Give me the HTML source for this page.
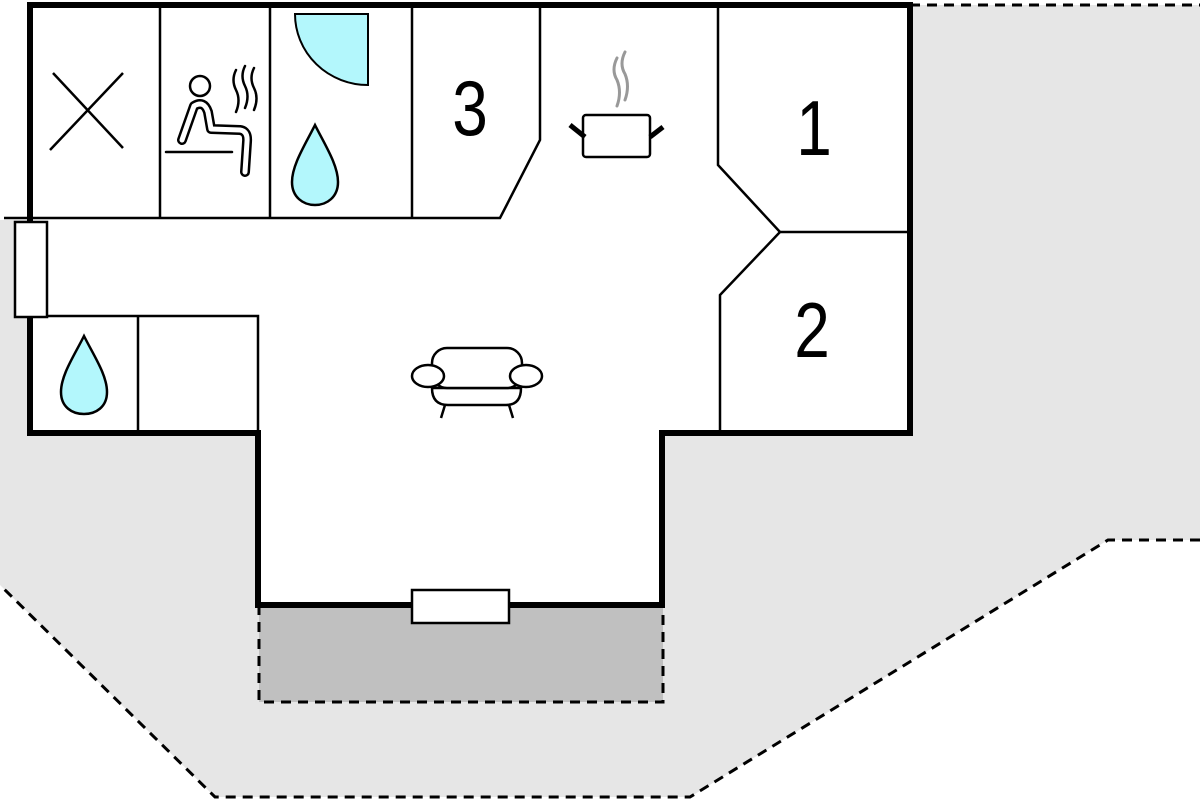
<!DOCTYPE html>
<html><head><style>html,body{margin:0;padding:0;background:#fff;}svg{display:block;}</style></head>
<body>
<svg width="1200" height="800" viewBox="0 0 1200 800" xmlns="http://www.w3.org/2000/svg">
<polygon points="910,5 1200,5 1200,540 1108,540 690,797 215,797 0,585 0,220 30,220 30,5" fill="#e6e6e6"/>
<polyline points="910,5 1200,5" fill="none" stroke="#000" stroke-width="3" stroke-dasharray="10,7"/>
<polyline points="1200,540 1108,540 690,797 215,797 0,585" fill="none" stroke="#000" stroke-width="3" stroke-dasharray="10,7"/>
<rect x="259" y="605" width="404" height="97" fill="#c0c0c0"/>
<polyline points="259,605 259,702 663,702 663,605" fill="none" stroke="#000" stroke-width="3" stroke-dasharray="10,7"/>
<polygon points="30,5 910,5 910,435 662,435 662,605 258,605 258,435 30,435" fill="#fff"/>
<g fill="none" stroke="#000" stroke-width="2.5">
<polyline points="30,218 500,218 540,140 540,5"/>
<line x1="160" y1="5" x2="160" y2="218"/>
<line x1="270" y1="5" x2="270" y2="218"/>
<line x1="412" y1="5" x2="412" y2="218"/>
<polyline points="30,316 258,316 258,435"/>
<line x1="138" y1="316" x2="138" y2="435"/>
<polyline points="718,5 718,165 780,232 720,295 720,435"/>
<line x1="780" y1="232" x2="910" y2="232"/>
</g>
<g fill="none" stroke="#000" stroke-width="6" stroke-linecap="square">
<polyline points="30,220 30,5 910,5 910,433 662,433 662,605 258,605 258,433 30,433 30,318"/>
</g>
<rect x="15" y="222" width="32" height="95" fill="#fff" stroke="#000" stroke-width="2.5"/>
<line x1="4" y1="218" x2="30" y2="218" stroke="#000" stroke-width="2.5"/>
<rect x="412" y="590" width="97" height="33" fill="#fff" stroke="#000" stroke-width="2.5"/>
<g font-family="Liberation Sans, sans-serif" font-size="78" fill="#000" text-anchor="middle">
<text transform="translate(470,135) scale(0.82,1)">3</text>
<text transform="translate(814,155) scale(0.82,1)">1</text>
<text transform="translate(812,357) scale(0.82,1)">2</text>
</g>
<g stroke="#000" stroke-width="2.5">
<line x1="53" y1="73" x2="123" y2="148"/>
<line x1="123" y1="73" x2="50" y2="150"/>
</g>
<!-- sauna -->
<g fill="none" stroke-linecap="round" stroke-linejoin="round">
<path d="M194,106 L182,140 M194,106 Q204,100 208,112 L211,129 L240,130 Q248,131 247,142 L245,172" stroke="#000" stroke-width="10"/>
<path d="M194,106 L182,140 M194,106 Q204,100 208,112 L211,129 L240,130 Q248,131 247,142 L245,172" stroke="#fff" stroke-width="5"/>
<circle cx="200" cy="86" r="10" stroke="#000" stroke-width="2.5" fill="#fff"/>
<line x1="166" y1="152" x2="232" y2="152" stroke="#000" stroke-width="2.5"/>
<path d="M236,70 q-5,10 0,20 q5,10 0,22 M245,66 q-5,10 0,20 q5,10 0,22 M254,68 q-5,10 0,20 q5,10 0,22" stroke="#000" stroke-width="2.5"/>
</g>
<path d="M295,14 L368,14 L368,85 A73,71 0 0 1 295,14 Z" fill="#b3f7fc" stroke="#000" stroke-width="2"/>
<path d="M315,125 C325,145 338,165 338,182 C338,197 327,205 315,205 C303,205 292,197 292,182 C292,165 305,145 315,125 Z" fill="#b3f7fc" stroke="#000" stroke-width="2.5"/>
<path d="M84,336 C94,356 107,375 107,392 C107,407 96,414 84,414 C72,414 61,407 61,392 C61,375 74,356 84,336 Z" fill="#b3f7fc" stroke="#000" stroke-width="2.5"/>
<g stroke="#000">
<rect x="583" y="115" width="67" height="42" rx="3" fill="#fff" stroke-width="2.5"/>
<line x1="570" y1="125" x2="585" y2="137" stroke-width="5"/>
<line x1="663" y1="127" x2="650" y2="137" stroke-width="5"/>
</g>
<g fill="none" stroke="#999" stroke-width="3" stroke-linecap="round">
<path d="M617,58 q-6,12 0,22 q5,12 0,26"/>
<path d="M625,52 q-6,12 0,22 q5,12 0,26"/>
</g>
<g fill="#fff" stroke="#000" stroke-width="2.5">
<path d="M432,388 Q432,405 448,405 L506,405 Q521,405 521,388 Z"/>
<rect x="432" y="348" width="90" height="40" rx="15"/>
<ellipse cx="428" cy="376" rx="16" ry="11"/>
<ellipse cx="526" cy="376" rx="16" ry="11"/>
<line x1="445" y1="405" x2="441" y2="418"/>
<line x1="509" y1="405" x2="513" y2="418"/>
</g>
</svg>
</body></html>
